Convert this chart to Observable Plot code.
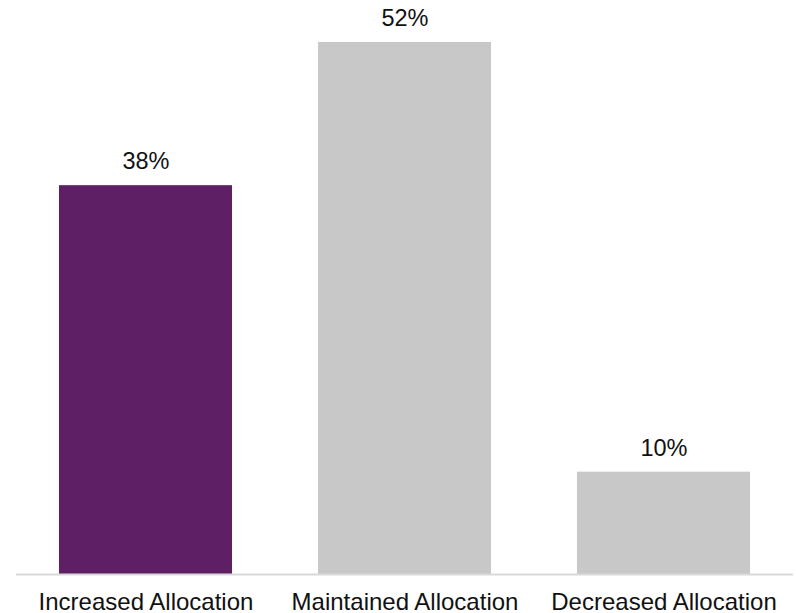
<!DOCTYPE html>
<html>
<head>
<meta charset="utf-8">
<script src="https://cdn.jsdelivr.net/npm/d3@7"></script>
<script src="https://cdn.jsdelivr.net/npm/@observablehq/plot@0.6"></script>
<style>
  html, body { margin: 0; padding: 0; background: #fff; }
  #chart svg { display: block; }
</style>
</head>
<body>
<div id="chart"></div>
<script>
// Share of respondents by change in allocation
const categories = ["Increased Allocation", "Maintained Allocation", "Decreased Allocation"];
const values = [38, 52, 10];
const highlighted = "Increased Allocation";

const data = categories.map((c, i) => ({category: c, value: values[i]}));

const chart = Plot.plot({
  width: 796,
  height: 613,
  marginTop: 1,
  marginBottom: 39,
  marginLeft: 16,
  marginRight: 3,
  style: {fontFamily: "'Liberation Sans', Arial, sans-serif", color: "#000", background: "#fff"},
  x: {domain: categories, paddingInner: 0.332, paddingOuter: 0.166, label: null},
  y: {domain: [0, 56], axis: null},
  marks: [
    Plot.barY(data, {
      x: "category",
      y: "value",
      fill: d => d.category === highlighted ? "#5E1F64" : "#C8C8C8"
    }),
    Plot.ruleY([0], {stroke: "#D9D9D9", strokeWidth: 2}),
    Plot.text(data, {
      x: "category",
      y: "value",
      text: d => `${d.value}%`,
      dy: -24,
      fontSize: 23.5,
      fill: "#111"
    }),
    Plot.axisX({
      tickSize: 0,
      tickPadding: 18,
      fontSize: 24,
      fill: "#111",
      label: null
    })
  ]
});

document.getElementById("chart").appendChild(chart);
</script>
</body>
</html>
